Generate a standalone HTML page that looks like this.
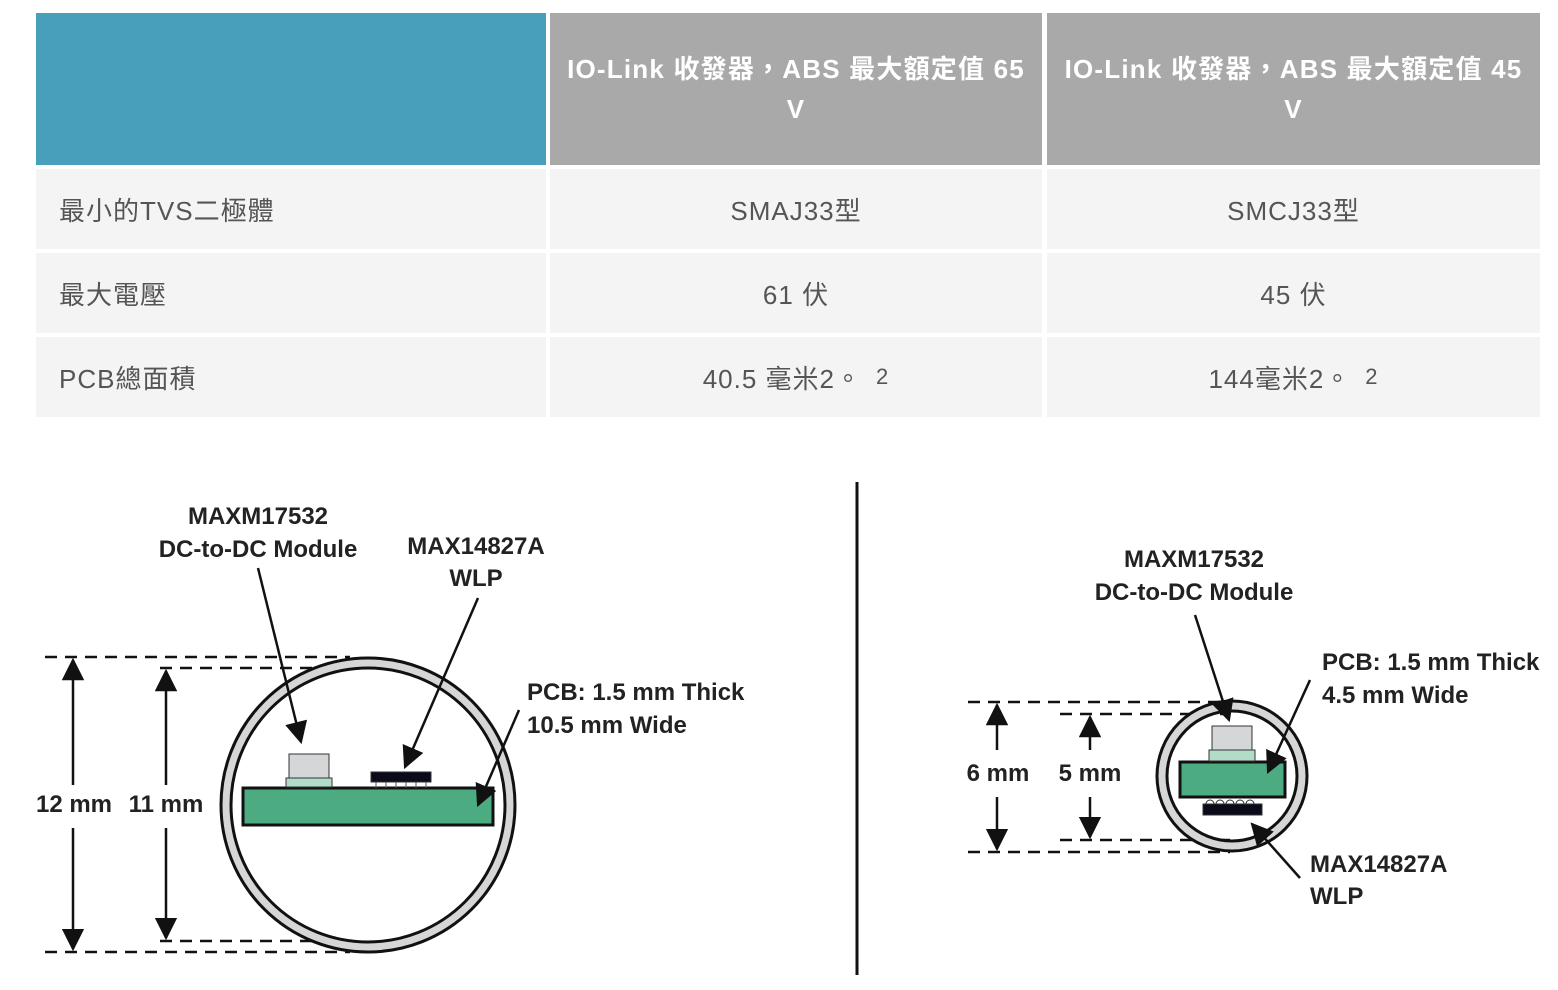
<!DOCTYPE html>
<html><head><meta charset="utf-8"><style>
body{margin:0;width:1558px;height:990px;background:#fff;font-family:"Liberation Sans","Noto Sans CJK TC",sans-serif;position:relative;overflow:hidden}
.c{position:absolute;box-sizing:border-box;display:flex;align-items:center;font-size:26px;color:#555;letter-spacing:1px}
.h{background:#a9a9a9;color:#fff;justify-content:center;text-align:center;line-height:40px;font-weight:bold;letter-spacing:1.2px}
.r{background:#f4f4f4}
.ctr{justify-content:center}
svg text{font-family:"Liberation Sans",sans-serif;font-weight:bold;font-size:24px;fill:#222}
</style></head><body>
<div class="c" style="left:36px;top:13px;width:510px;height:152px;background:#479fbb"></div>
<div class="c h" style="left:550px;top:13px;width:492px;height:152px">IO-Link 收發器，ABS 最大額定值 65<br>V</div>
<div class="c h" style="left:1047px;top:13px;width:493px;height:152px">IO-Link 收發器，ABS 最大額定值 45<br>V</div>
<div class="c r" style="left:36px;top:169px;width:510px;height:80px;padding-left:23px">最小的TVS二極體</div>
<div class="c r ctr" style="left:550px;top:169px;width:492px;height:80px">SMAJ33型</div>
<div class="c r ctr" style="left:1047px;top:169px;width:493px;height:80px">SMCJ33型</div>
<div class="c r" style="left:36px;top:253px;width:510px;height:80px;padding-left:23px">最大電壓</div>
<div class="c r ctr" style="left:550px;top:253px;width:492px;height:80px">61 伏</div>
<div class="c r ctr" style="left:1047px;top:253px;width:493px;height:80px">45 伏</div>
<div class="c r" style="left:36px;top:337px;width:510px;height:80px;padding-left:23px">PCB總面積</div>
<div class="c r ctr" style="left:550px;top:337px;width:492px;height:80px">40.5 毫米2。 <span style="font-size:22px;margin-left:14px">2</span></div>
<div class="c r ctr" style="left:1047px;top:337px;width:493px;height:80px">144毫米2。 <span style="font-size:22px;margin-left:14px">2</span></div>

<svg width="1558" height="990" style="position:absolute;left:0;top:0">
<defs><marker id="a" viewBox="0 0 10 10" refX="9" refY="5" markerWidth="9" markerHeight="9" orient="auto"><path d="M0,0L10,5L0,10z" fill="#111"/></marker></defs>
<line x1="857" y1="482" x2="857" y2="975" stroke="#111" stroke-width="3"/>
<g stroke="#111" stroke-width="2.5" stroke-dasharray="12,8" fill="none">
<line x1="45" y1="657" x2="350" y2="657"/><line x1="160" y1="668" x2="350" y2="668"/>
<line x1="160" y1="941" x2="350" y2="941"/><line x1="45" y1="952" x2="350" y2="952"/>
<line x1="968" y1="702" x2="1230" y2="702"/><line x1="1060" y1="714" x2="1230" y2="714"/>
<line x1="1060" y1="840" x2="1230" y2="840"/><line x1="968" y1="852" x2="1230" y2="852"/>
</g>
<circle cx="368" cy="805" r="142" fill="none" stroke="#d5d6d8" stroke-width="10"/>
<circle cx="368" cy="805" r="147" fill="none" stroke="#111" stroke-width="3"/>
<circle cx="368" cy="805" r="137" fill="none" stroke="#111" stroke-width="3"/>
<rect x="243" y="788" width="250" height="37" fill="#4dab82" stroke="#111" stroke-width="3"/>
<rect x="289" y="754" width="40" height="24" fill="#d5d6d8" stroke="#333"/>
<rect x="286" y="778" width="46" height="9" fill="#b3dcc8" stroke="#333"/>
<rect x="371" y="772" width="60" height="10" fill="#0a0a1a" stroke="#333"/>
<g stroke="#555" stroke-width="1"><line x1="376" y1="782" x2="376" y2="788"/><line x1="386" y1="782" x2="386" y2="788"/><line x1="396" y1="782" x2="396" y2="788"/><line x1="406" y1="782" x2="406" y2="788"/><line x1="416" y1="782" x2="416" y2="788"/><line x1="426" y1="782" x2="426" y2="788"/></g>
<circle cx="1232" cy="776" r="70" fill="none" stroke="#d5d6d8" stroke-width="10"/>
<circle cx="1232" cy="776" r="75" fill="none" stroke="#111" stroke-width="3"/>
<circle cx="1232" cy="776" r="65" fill="none" stroke="#111" stroke-width="3"/>
<rect x="1180" y="762" width="105" height="35" fill="#4dab82" stroke="#111" stroke-width="3"/>
<rect x="1212" y="726" width="40" height="24" fill="#d5d6d8" stroke="#333"/>
<rect x="1209" y="750" width="46" height="11" fill="#b3dcc8" stroke="#333"/>
<rect x="1203" y="804" width="59" height="11" fill="#0a0a1a" stroke="#333"/>
<g fill="none" stroke="#333" stroke-width="1"><path d="M1206,804a4,4 0 0 1 8,0M1216,804a4,4 0 0 1 8,0M1226,804a4,4 0 0 1 8,0M1236,804a4,4 0 0 1 8,0M1246,804a4,4 0 0 1 8,0"/></g>
<g stroke="#111" stroke-width="2.5" marker-end="url(#a)">
<line x1="258" y1="568" x2="301" y2="742"/>
<line x1="478" y1="598" x2="405" y2="767"/>
<line x1="519" y1="710" x2="478" y2="805"/>
<line x1="1195" y1="615" x2="1229" y2="720"/>
<line x1="1310" y1="680" x2="1268" y2="772"/>
<line x1="1300" y1="878" x2="1252" y2="824"/>
<line x1="73" y1="785" x2="73" y2="660"/><line x1="73" y1="828" x2="73" y2="949"/>
<line x1="166" y1="785" x2="166" y2="671"/><line x1="166" y1="828" x2="166" y2="938"/>
<line x1="997" y1="750" x2="997" y2="705"/><line x1="997" y1="797" x2="997" y2="849"/>
<line x1="1090" y1="750" x2="1090" y2="717"/><line x1="1090" y1="797" x2="1090" y2="837"/>
</g>
<text x="258" y="524" text-anchor="middle">MAXM17532</text>
<text x="258" y="557" text-anchor="middle">DC-to-DC Module</text>
<text x="476" y="554" text-anchor="middle">MAX14827A</text>
<text x="476" y="586" text-anchor="middle">WLP</text>
<text x="527" y="700">PCB: 1.5 mm Thick</text>
<text x="527" y="733">10.5 mm Wide</text>
<text x="74" y="812" text-anchor="middle">12 mm</text>
<text x="166" y="812" text-anchor="middle">11 mm</text>
<text x="1194" y="567" text-anchor="middle">MAXM17532</text>
<text x="1194" y="600" text-anchor="middle">DC-to-DC Module</text>
<text x="1322" y="670">PCB: 1.5 mm Thick</text>
<text x="1322" y="703">4.5 mm Wide</text>
<text x="998" y="781" text-anchor="middle">6 mm</text>
<text x="1090" y="781" text-anchor="middle">5 mm</text>
<text x="1310" y="872">MAX14827A</text>
<text x="1310" y="904">WLP</text>
</svg>
</body></html>
